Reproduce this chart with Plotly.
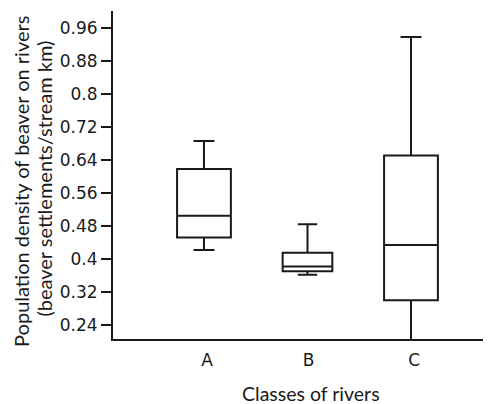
import plotly.graph_objects as go

categories = ["A", "B", "C"]
q1 = [0.453, 0.371, 0.301]
median = [0.506, 0.383, 0.435]
q3 = [0.619, 0.416, 0.652]
lower_fence = [0.423, 0.363, 0.19]
upper_fence = [0.687, 0.485, 0.939]
box_widths = [0.52, 0.48, 0.52]
y_ticks = [0.24, 0.32, 0.4, 0.48, 0.56, 0.64, 0.72, 0.8, 0.88, 0.96]
y_tick_labels = ["0.24", "0.32", "0.4", "0.48", "0.56", "0.64", "0.72", "0.8", "0.88", "0.96"]
y_title_lines = ["Population density of beaver on rivers", "(beaver settlements/stream km)"]
x_title = "Classes of rivers"

line_col = "#1a1a1a"
fig = go.Figure()
for i, cat in enumerate(categories):
    fig.add_trace(go.Box(
        x=[i], q1=[q1[i]], median=[median[i]], q3=[q3[i]],
        lowerfence=[lower_fence[i]], upperfence=[upper_fence[i]],
        width=box_widths[i], whiskerwidth=0.39,
        fillcolor="rgba(255,255,255,0)",
        line=dict(color=line_col, width=2),
        boxpoints=False, showlegend=False, hoverinfo="skip",
    ))

title_font = dict(family="Lato", size=20, color=line_col)
x_title_font = dict(family="Lato", size=19.5, color=line_col)
tick_font = dict(family="DejaVu Sans", size=17, color=line_col)
fig.update_layout(
    width=483, height=396,
    margin=dict(l=105, r=0, t=3, b=65, autoexpand=False),
    paper_bgcolor="white", plot_bgcolor="white",
    font=dict(family="DejaVu Sans", size=17, color=line_col),
    xaxis=dict(
        range=[-0.879, 2.773], tickvals=[0.03, 1.01, 2.03], ticktext=categories,
        showline=True, linecolor=line_col, linewidth=2,
        ticks="outside", ticklen=5, tickcolor="rgba(0,0,0,0)",
        showgrid=False, zeroline=False, tickfont=tick_font,
    ),
    yaxis=dict(
        range=[0.207, 1.002], tickvals=y_ticks, ticktext=y_tick_labels,
        showline=True, linecolor=line_col, linewidth=2,
        ticks="outside", ticklen=10, tickwidth=1.5, tickcolor=line_col,
        showgrid=False, zeroline=False, tickfont=tick_font,
    ),
    annotations=[
        dict(text=y_title_lines[0], xref="paper", yref="paper", x=0, y=0.479, xshift=-92,
             xanchor="center", yanchor="middle", textangle=-90, showarrow=False, font=title_font),
        dict(text=y_title_lines[1], xref="paper", yref="paper", x=0, y=0.489, xshift=-69,
             xanchor="center", yanchor="middle", textangle=-90, showarrow=False, font=title_font),
        dict(text=x_title, xref="paper", yref="paper", x=0.5225, y=0, yshift=-54,
             xanchor="center", yanchor="middle", showarrow=False, font=x_title_font),
    ],
)

fig.write_html("out.html")
